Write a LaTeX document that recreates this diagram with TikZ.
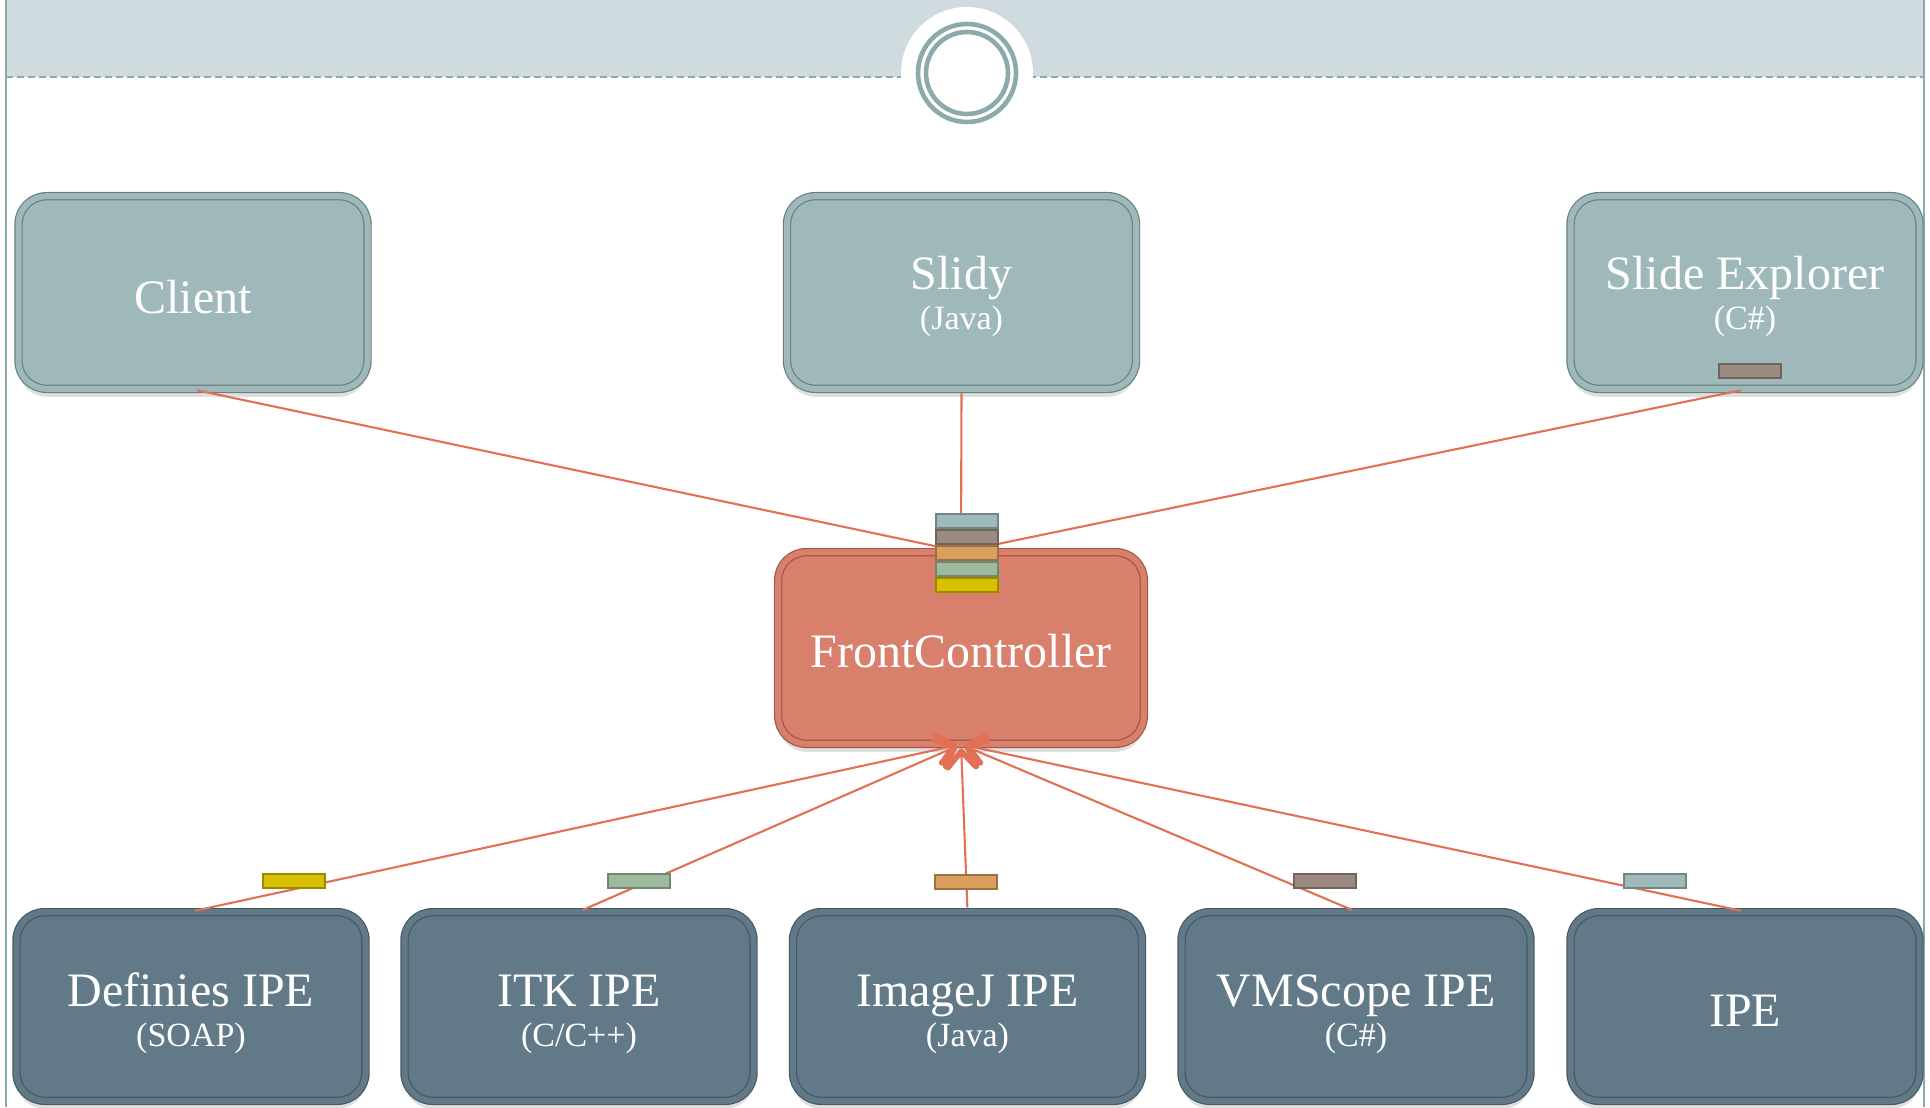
\documentclass[tikz,border=0pt]{standalone}
\usepackage{fontspec}
\setmainfont{Liberation Serif}
\usetikzlibrary{arrows.meta,shadows}

\definecolor{bandgrey}{RGB}{208,219,223}
\definecolor{ringteal}{RGB}{139,170,169}
\definecolor{topfill}{RGB}{159,185,186}
\definecolor{topline}{RGB}{104,128,129}
\definecolor{fcfill}{RGB}{217,128,108}
\definecolor{fcline}{RGB}{160,86,72}
\definecolor{ipefill}{RGB}{98,122,135}
\definecolor{ipeline}{RGB}{70,88,98}
\definecolor{wire}{RGB}{226,112,84}
\definecolor{tagteal}{RGB}{158,186,186}
\definecolor{tagbrown}{RGB}{156,138,128}
\definecolor{tagorange}{RGB}{218,159,92}
\definecolor{taggreen}{RGB}{158,186,158}
\definecolor{tagyellow}{RGB}{214,192,0}

\newcommand{\subtxt}[1]{{\fontsize{17}{19}\selectfont #1}}

\tikzset{
  box/.style={rounded corners=14pt, minimum width=174.5pt, minimum height=96.3pt,
    inner sep=0pt, line width=0.6pt, double distance=3pt, text=white, align=center,
    font=\fontsize{24}{20}\selectfont,
    drop shadow={shadow xshift=0pt, shadow yshift=-4pt, opacity=0.25}},
  topbox/.style={box, fill=topfill, draw=topline, double=topfill, text height=21pt},
  fcbox/.style={box, fill=fcfill, draw=fcline, double=fcfill, minimum width=182.8pt, minimum height=95.8pt, text height=19.5pt},
  ipebox/.style={box, fill=ipefill, draw=ipeline, double=ipefill, minimum height=94.3pt, text height=43.2pt},
  tag/.style={minimum width=31.2pt, minimum height=7.2pt, inner sep=0pt, line width=0.85pt},
  wire/.style={draw=wire, line width=1.05pt, shorten <=2pt},
  feed/.style={wire, shorten >=2pt, -{Straight Barb[length=8pt, width=14pt, line width=2.8pt, round]}}
}

\begin{document}
\begin{tikzpicture}[x=0.5pt,y=-0.5pt]
\useasboundingbox (0,0) rectangle (1930,1107);

%Shape: Header band
\fill[bandgrey] (6,0) rectangle (1924,77);
\draw[ringteal, line width=0.8pt, dash pattern=on 3.5pt off 2pt] (6,77) -- (1924,77);
\fill[white] (967,73) circle[radius=66];
\draw[ringteal, line width=2.3pt] (967,73) circle[radius=49];
\draw[ringteal, line width=2.3pt] (967,73) circle[radius=41];

%Straight Lines: side borders
\draw[ringteal, line width=1pt] (6,0) -- (6,1107);
\draw[ringteal, line width=1pt] (1924,0) -- (1924,1107);

%Shape: Rounded Rect (top row)
\node[topbox] (client) at (193,292.5) {Client};
\node[topbox, text height=41pt] (slidy) at (961.5,292.5) {Slidy\\\subtxt{(Java)}};
\node[topbox, text height=41pt] (explorer) at (1745,292.5) {Slide Explorer\\\subtxt{(C\#)}};

%Shape: Rounded Rect (controller)
\node[fcbox] (fc) at (961,648) {FrontController};

%Shape: Rounded Rect (bottom row)
\node[ipebox] (definies) at (191,1006.5) {Definies IPE\\\subtxt{(SOAP)}};
\node[ipebox] (itk) at (579,1006.5) {ITK IPE\\\subtxt{(C/C++)}};
\node[ipebox] (imagej) at (967.5,1006.5) {ImageJ IPE\\\subtxt{(Java)}};
\node[ipebox] (vmscope) at (1356,1006.5) {VMScope IPE\\\subtxt{(C\#)}};
\node[ipebox, text height=19.5pt] (ipe) at (1745,1006.5) {IPE};

%Straight Lines
\draw[wire, shorten >=2pt] (client.south) -- (fc.north);
\draw[wire] (slidy.south) -- (fc.north);
\draw[wire, shorten >=2pt] (explorer.south) -- (fc.north);
\foreach \src in {definies,itk,imagej,vmscope,ipe}
  \draw[feed] (\src.north) -- (fc.south);

%Shape: Tags
\foreach \c [count=\i from 0] in {tagteal,tagbrown,tagorange,taggreen,tagyellow}
  \node[tag, fill=\c, draw=\c!72!black] (stack\i) at (967,521+16*\i) {};
\node[tag, fill=tagbrown, draw=tagbrown!72!black] (explorertag) at (1750,371) {};
\node[tag, fill=tagyellow, draw=tagyellow!72!black] (definiestag) at (294,881) {};
\node[tag, fill=taggreen, draw=taggreen!72!black] (itktag) at (639,881) {};
\node[tag, fill=tagorange, draw=tagorange!72!black] (imagejtag) at (966,882) {};
\node[tag, fill=tagbrown, draw=tagbrown!72!black] (vmscopetag) at (1325,881) {};
\node[tag, fill=tagteal, draw=tagteal!72!black] (ipetag) at (1655,881) {};

\end{tikzpicture}
\end{document}
